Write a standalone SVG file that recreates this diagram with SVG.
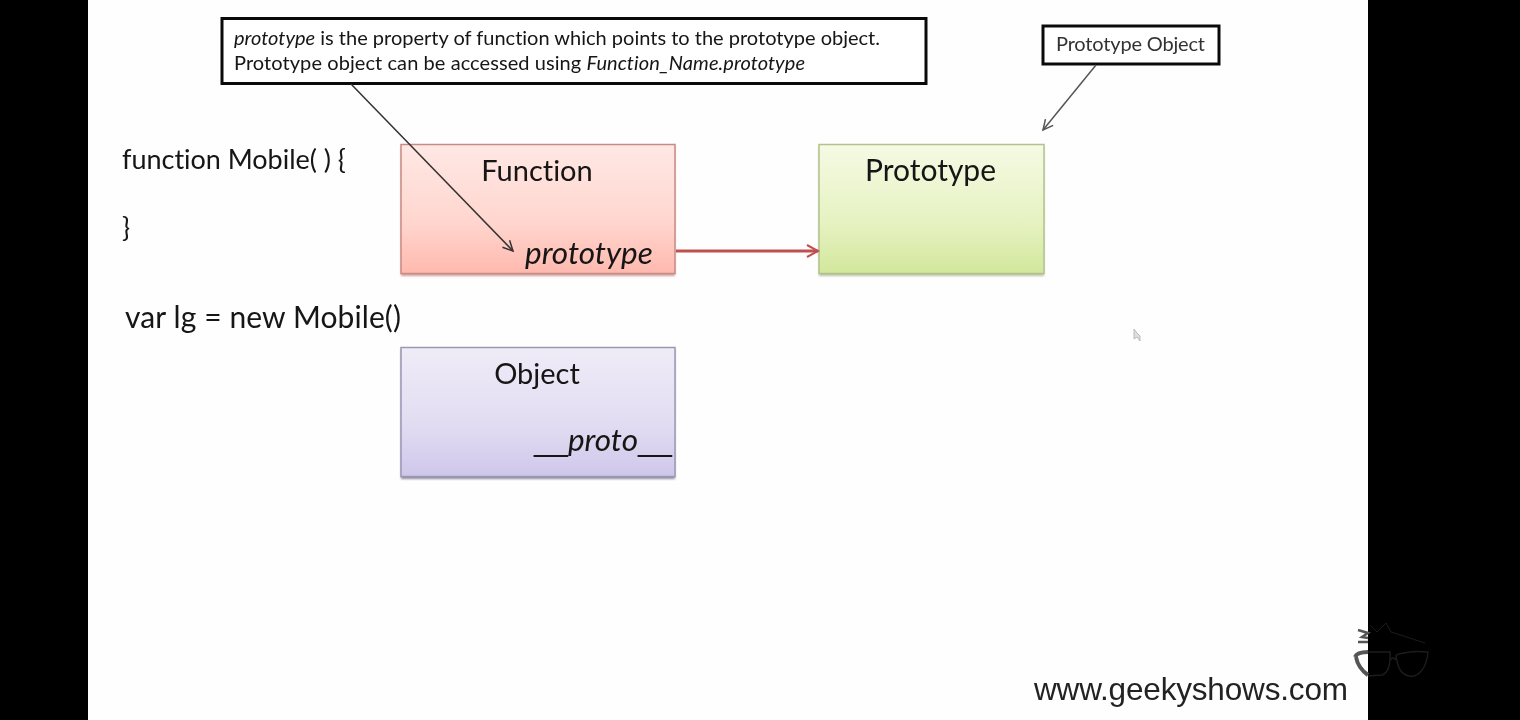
<svg xmlns="http://www.w3.org/2000/svg" width="1520" height="720" viewBox="0 0 1520 720">
<defs>
<linearGradient id="gRed" x1="0" y1="0" x2="0" y2="1"><stop offset="0" stop-color="#ffe8e4"/><stop offset="0.6" stop-color="#ffd6cf"/><stop offset="1" stop-color="#ffb9ae"/></linearGradient>
<linearGradient id="gGreen" x1="0" y1="0" x2="0" y2="1"><stop offset="0" stop-color="#f5fae4"/><stop offset="0.6" stop-color="#e6f2c2"/><stop offset="1" stop-color="#d3e79c"/></linearGradient>
<linearGradient id="gPurple" x1="0" y1="0" x2="0" y2="1"><stop offset="0" stop-color="#efecf7"/><stop offset="0.6" stop-color="#e2dcf2"/><stop offset="1" stop-color="#cfc7ea"/></linearGradient>
<filter id="soft" x="-5%" y="-5%" width="110%" height="110%"><feGaussianBlur stdDeviation="0.45"/></filter>
<filter id="shadow" x="-5%" y="-5%" width="110%" height="110%"><feGaussianBlur stdDeviation="1.2"/></filter>
<marker id="open" markerWidth="14" markerHeight="14" refX="11" refY="6" orient="auto" markerUnits="userSpaceOnUse"><path d="M1 1 L11 6 L1 11" fill="none" stroke="context-stroke" stroke-width="1.5"/></marker>
<marker id="red" markerWidth="16" markerHeight="16" refX="13" refY="7" orient="auto" markerUnits="userSpaceOnUse"><path d="M2 1 L13 7 L2 13" fill="none" stroke="#c0504d" stroke-width="2"/></marker>
</defs>
<style>
text{font-family:"Lato","Carlito","Liberation Sans",sans-serif;fill:#141414;font-variant-ligatures:none}
.box{stroke-width:1.5}
.call{fill:#fff;stroke:#0a0a0a;stroke-width:3}
.t{font-size:29px;text-anchor:middle}
.i{font-size:31.500px;font-style:italic}
.c{font-size:20px}
.code{font-size:27px}
.u{font-family:"Liberation Sans",sans-serif;font-size:30.500px;font-style:normal}
</style>
<rect width="1520" height="720" fill="#fefefe"/>
<rect x="0" y="0" width="88" height="720" fill="#000"/>
<rect x="1368" y="0" width="152" height="720" fill="#000"/>
<g id="code" filter="url(#soft)">
<text class="code" x="122" y="169" textLength="224">function Mobile( ) {</text>
<text class="code" x="122" y="237">}</text>
<text class="code" x="125" y="328" style="font-size:30px" textLength="276">var lg = new Mobile()</text>
</g>
<g id="function">
<rect x="401" y="146" width="274" height="130" fill="#a8645c" opacity=".6" filter="url(#shadow)"/>
<rect class="box" x="401" y="144.500" width="274" height="129" fill="url(#gRed)" stroke="#c98a84"/>
<g filter="url(#soft)">
<text class="t" x="537" y="181">Function</text>
<text class="i" x="525" y="264">prototype</text>
</g>
</g>
<g id="prototype">
<rect x="819" y="146" width="225" height="130" fill="#8a9968" opacity=".6" filter="url(#shadow)"/>
<rect class="box" x="819" y="144.500" width="225" height="129" fill="url(#gGreen)" stroke="#b3c28c"/>
<text class="t" x="930.500" y="181" style="font-size:30px" filter="url(#soft)">Prototype</text>
</g>
<g id="object">
<rect x="401" y="349" width="274" height="130" fill="#5f5a7a" opacity=".7" filter="url(#shadow)"/>
<rect class="box" x="401" y="347.500" width="274" height="129" fill="url(#gPurple)" stroke="#9c97b5"/>
<g filter="url(#soft)">
<text class="t" x="537" y="384">Object</text>
<text class="i" x="534" y="451"><tspan class="u">__</tspan>proto<tspan class="u">__</tspan></text>
</g>
</g>
<g id="note-prototype">
<rect class="call" x="222" y="18.500" width="704" height="65"/>
<g filter="url(#soft)">
<text class="c" x="234" y="45" textLength="646"><tspan font-style="italic">prototype</tspan> is the property of function which points to the prototype object.</text>
<text class="c" x="234" y="70" textLength="571">Prototype object can be accessed using <tspan font-style="italic">Function_Name.prototype</tspan></text>
</g>
</g>
<g id="note-object">
<rect class="call" x="1043" y="26" width="176" height="38"/>
<text class="c" x="1056" y="51" style="fill:#333" textLength="149" filter="url(#soft)">Prototype Object</text>
</g>
<g id="connectors" fill="none">
<path d="M351 84 L513 251" stroke="#333" stroke-width="1.500" marker-end="url(#open)"/>
<path d="M1096 65 L1043 130" stroke="#555" stroke-width="1.500" marker-end="url(#open)"/>
<path d="M676 251 L818 251" stroke="#c0504d" stroke-width="3" marker-end="url(#red)"/>
</g>
<g id="cursor"><path d="M1134 329 L1134 339 L1137 337 L1140 341 L1140 336 L1137 333 Z" fill="#ddd" stroke="#bbb" filter="url(#soft)"/></g>
<g id="watermark">
<text x="1034" y="700" font-size="31.500" textLength="314" style="font-family:'Liberation Sans',sans-serif;fill:#222" filter="url(#soft)">www.geekyshows.com</text>
<path d="M1358 630 L1368 633 L1362 637 L1368 638 M1358 642 L1368 642" fill="none" stroke="#555" stroke-width="2.500"/>
<path d="M1355 657 Q1357 652 1368 652 M1356 657 Q1358 668 1368 675" fill="none" stroke="#555" stroke-width="4"/>
<path d="M1370 625 L1377 632 L1386 623 L1391 632 L1425 643" fill="none" stroke="#1c1c1c" stroke-width="1"/>
<path d="M1368 652 L1390 652 Q1391 672 1382 675 L1368 676 M1396 655 Q1410 650 1428 652 Q1426 672 1414 676 Q1398 678 1396 655 M1390 660 Q1393 656 1396 660" fill="none" stroke="#1c1c1c" stroke-width="1.500"/>
</g>
</svg>
